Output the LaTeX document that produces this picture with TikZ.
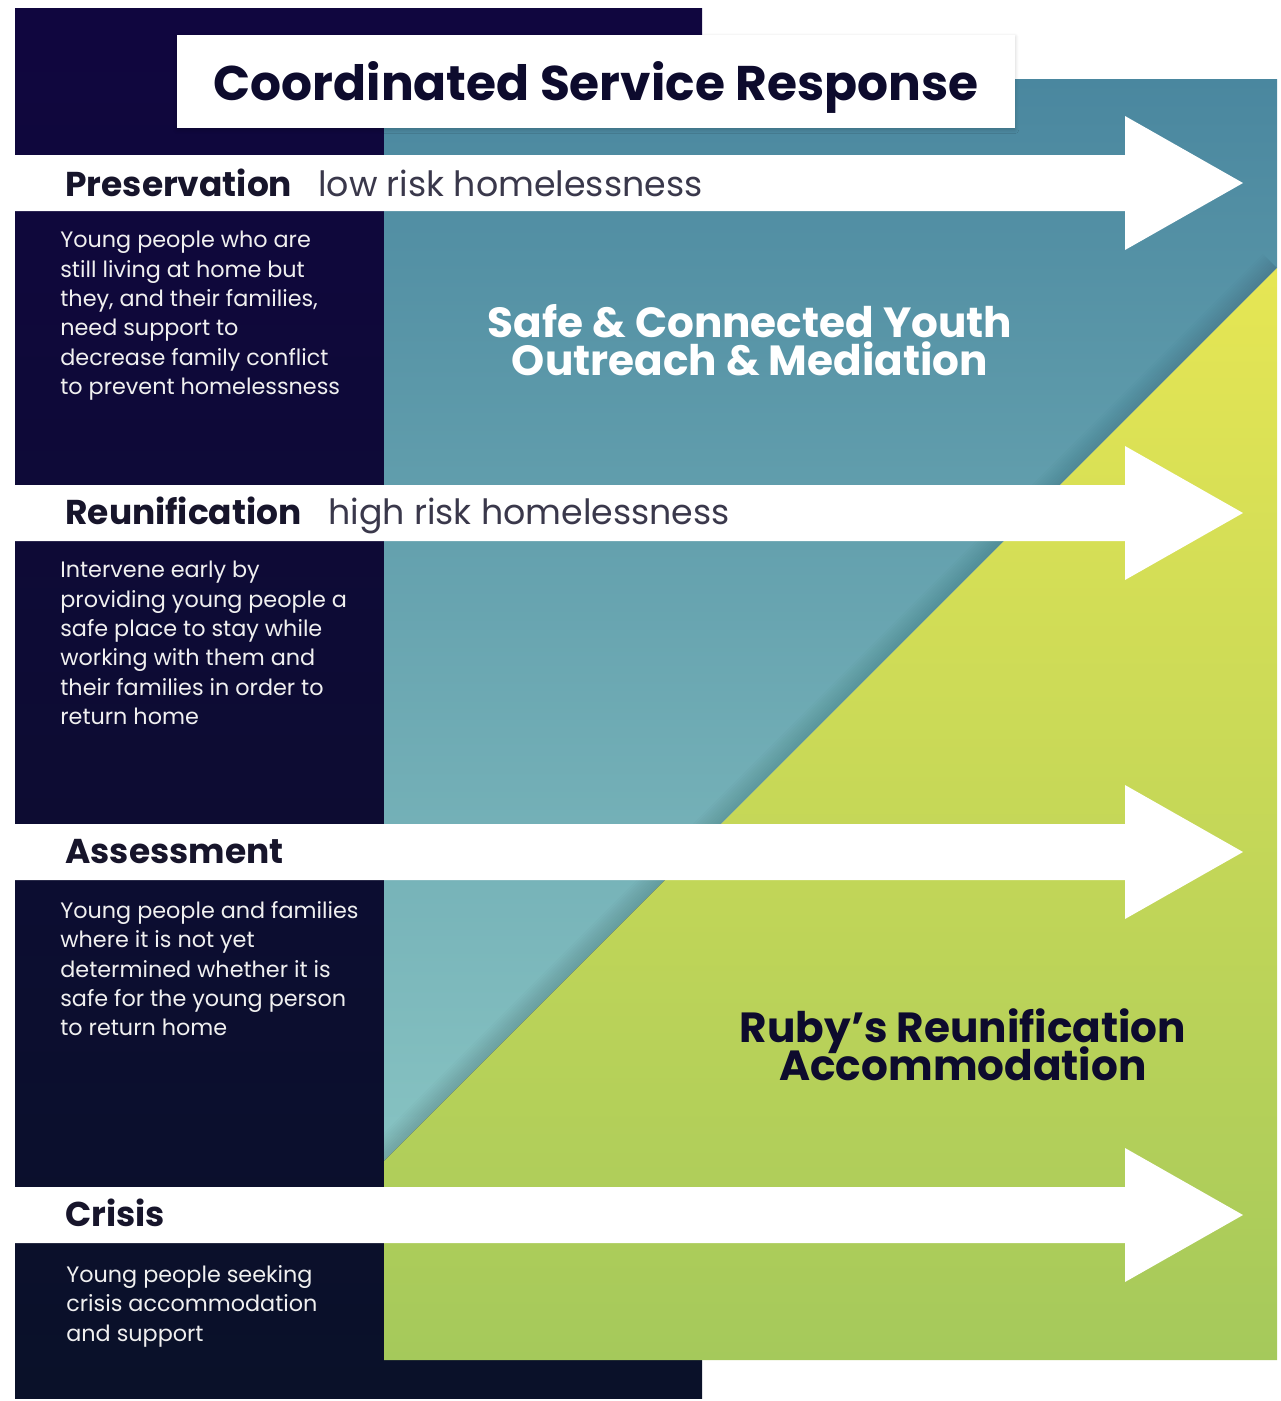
\documentclass[tikz,border=0pt]{standalone}
\usepackage{fontspec}
\setmainfont{Poppins}
\usetikzlibrary{shadows.blur}

\definecolor{navytop}{HTML}{10063F}
\definecolor{navybot}{HTML}{0A1129}
\definecolor{tealtop}{HTML}{4A879F}
\definecolor{tealbot}{HTML}{87C3C2}
\definecolor{limetop}{HTML}{E6E654}
\definecolor{limebot}{HTML}{A5C95B}
\definecolor{inktext}{HTML}{17152B}
\definecolor{titleink}{HTML}{0D0B2D}

\begin{document}
\begin{tikzpicture}[x=0.02cm,y=-0.02cm,
  stage/.style={anchor=base west,inner sep=0,text=inktext,font=\bfseries\fontsize{19.6}{22}\selectfont},
  risk/.style={anchor=base west,inner sep=0,text=inktext!85,font=\fontsize{19.8}{22}\selectfont},
  blurb/.style={anchor=north west,inner sep=0,align=left,text=white!94!black,font=\fontsize{12.7}{16.7}\selectfont},
  service/.style={align=center,inner sep=0,font=\bfseries\fontsize{24}{21.5}\selectfont}]
\useasboundingbox (0,0) rectangle (1281,1401);

% back panels
\shade[top color=navytop,bottom color=navybot] (15,8) rectangle (702,1398);
\shade[top color=tealtop,bottom color=tealbot] (384,79) -- (1277,79) -- (1277,268) -- (384,1161) -- cycle;
\shade[top color=limetop,bottom color=limebot] (1277,268) -- (1277,1360) -- (384,1360) -- (384,1161) -- cycle;
% soft shade along the diagonal
\begin{scope}
  \clip (384,79) -- (1277,79) -- (1277,268) -- (384,1161) -- cycle;
  \foreach \w in {4,8,...,40}
    \draw[line width=\w*0.02cm,black,opacity=0.012] (1277,268) -- (384,1161);
\end{scope}

% title
\node[fill=white,minimum width=16.76cm,minimum height=1.86cm,inner sep=0,
  blur shadow={shadow xshift=0pt,shadow yshift=-1pt,shadow blur steps=6,shadow opacity=20}] (titlebox) at (596,81.5) {};
\node[text=titleink,font=\bfseries\fontsize{27.7}{30}\selectfont] (title) at (596,87) {Coordinated Service Response};

% arrows
\fill[white] (15,155) -- (1125,155) -- (1125,116) -- (1243,183) -- (1125,250) -- (1125,211) -- (15,211) -- cycle;
\fill[white] (15,485) -- (1125,485) -- (1125,446) -- (1243,513) -- (1125,580) -- (1125,541) -- (15,541) -- cycle;
\fill[white] (15,824) -- (1125,824) -- (1125,785) -- (1243,852) -- (1125,919) -- (1125,880) -- (15,880) -- cycle;
\fill[white] (15,1187) -- (1125,1187) -- (1125,1148) -- (1243,1215) -- (1125,1282) -- (1125,1243) -- (15,1243) -- cycle;

% stage labels
\node[stage] (pres) at (65,196) {Preservation};
\node[risk] (presrisk) at (318,196) {low risk homelessness};
\node[stage] (reun) at (65,524) {Reunification};
\node[risk] (reunrisk) at (328,524) {high risk homelessness};
\node[stage] (asse) at (65,863) {Assessment};
\node[stage] (cris) at (65,1226) {Crisis};

% descriptions
\node[blurb] (presinfo) at (60,231) {Young people who are\\still living at home but\\they, and their families,\\need support to\\decrease family conflict\\to prevent homelessness};
\node[blurb] (reuninfo) at (60,561) {Intervene early by\\providing young people a\\safe place to stay while\\working with them and\\their families in order to\\return home};
\node[blurb] (asseinfo) at (60,901) {Young people and families\\where it is not yet\\determined whether it is\\safe for the young person\\to return home};
\node[blurb] (crisinfo) at (66,1265) {Young people seeking\\crisis accommodation\\and support};

% services
\node[service,text=white] (outreach) at (750,340) {Safe \& Connected Youth\\Outreach \& Mediation};
\node[service,text=titleink] (ruby) at (963,1045) {Ruby’s Reunification\\[-5pt]Accommodation};
\end{tikzpicture}
\end{document}
